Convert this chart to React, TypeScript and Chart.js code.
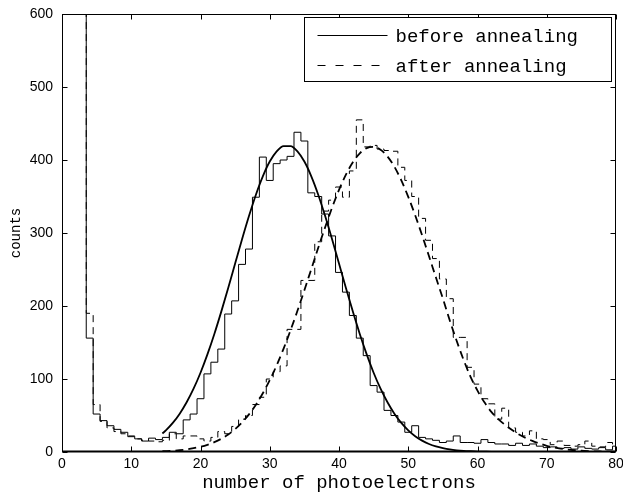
import React, { useEffect, useRef } from "react";
import { Chart, registerables } from "chart.js";

Chart.register(...registerables);

// Histogram bins (bin width 1, centred on integer photoelectron numbers)
const binCenters: number[] = [
  3, 4, 5, 6, 7, 8, 9, 10, 11, 12, 13, 14, 15, 16, 17, 18, 19, 20, 21, 22, 23, 24, 25, 26, 27, 28, 29, 30,
  31, 32, 33, 34, 35, 36, 37, 38, 39, 40, 41, 42, 43, 44, 45, 46, 47, 48, 49, 50, 51, 52, 53, 54, 55, 56,
  57, 58, 59, 60, 61, 62, 63, 64, 65, 66, 67, 68, 69, 70, 71, 72, 73, 74, 75, 76, 77, 78, 79, 80,
];

// counts before annealing (first bin is far off-scale)
const beforeCounts: number[] = [
  1500,
  156, 52, 43, 36, 31, 27, 21, 18, 15, 19,
  17, 20, 27, 25, 44, 52, 73, 107, 123, 141,
  189, 207, 257, 278, 349, 404, 372, 395, 400, 405,
  438, 426, 355, 350, 326, 296, 246, 219, 187, 156,
  132, 91, 82, 57, 50, 41, 27, 36, 20, 18,
  16, 13, 15, 22, 13, 13, 12, 17, 13, 11,
  11, 9, 12, 9, 11, 8, 6, 7, 5, 6,
  4, 7, 5, 4, 6, 3, 8,
];

// counts after annealing (first bin is far off-scale)
const afterCounts: number[] = [
  1500,
  190, 65, 42, 33, 28, 25, 22, 18, 16, 15,
  14, 16, 25, 18, 22, 22, 18, 15, 20, 28,
  25, 35, 45, 50, 65, 75, 100, 110, 118, 168,
  168, 235, 235, 288, 330, 345, 363, 349, 385, 455,
  418, 420, 415, 413, 412, 390, 372, 350, 320, 290,
  265, 237, 210, 157, 157, 116, 93, 73, 66, 45,
  60, 33, 27, 22, 29, 18, 17, 10, 15, 9,
  8, 10, 15, 8, 7, 13, 10,
];

// fitted curves
const fitX: number[] = [
  14.5, 15, 16, 17, 18, 19, 20, 21, 22, 23, 24, 25, 26, 27, 28, 29, 30, 31, 32, 33, 34, 35, 36, 37, 38,
  39, 40, 41, 42, 43, 44, 45, 46, 47, 48, 49, 50, 51, 52, 53, 54, 55, 56, 57, 58, 59, 60, 61, 62, 63,
  64, 65, 66, 67, 68, 69, 70, 71, 72, 73, 74, 75, 76, 77, 78, 79, 80,
];
const beforeFit: number[] = [
  25.4, 29.6, 39.8, 52.5, 68.1, 86.7, 108.6, 133.7, 161.7, 192.3, 224.7, 258.1, 291.4, 323.2, 352.5,
  377.7, 397.9, 411.9, 419.1, 419.1, 411.9, 397.9, 377.7, 352.5, 323.2, 291.4, 258.1, 224.7, 192.3,
  161.7, 133.7, 108.6, 86.7, 68.1, 52.5, 39.8, 29.6, 21.7, 15.6, 11.0, 7.7, 5.3, 3.5, 2.3, 1.5, 1.0,
  0.6, 0.4, 0.2, 0.1, 0.1, 0, 0, 0, 0, 0, 0, 0, 0, 0, 0, 0, 0, 0, 0, 0, 0,
];
const afterFit: number[] = [
  1.0, 1.2, 1.7, 2.5, 3.6, 5.2, 7.2, 9.9, 13.5, 18.1, 24.0, 31.4, 40.5, 51.5, 64.8, 80.4, 98.4, 118.8,
  141.7, 166.7, 193.4, 221.6, 250.6, 279.7, 307.9, 334.7, 359.0, 380.0, 396.9, 409.1, 416.2, 417.9,
  414.0, 404.8, 390.7, 372.0, 349.6, 324.3, 296.8, 268.1, 239.0, 210.2, 180, 152, 126, 103, 84, 68, 55,
  45, 37, 30, 24, 19, 15, 11.5, 8.5, 6.3, 4.6, 3.3, 2.4, 1.7, 1.2, 0.8, 0.6, 0.4, 0.3,
];

const xRange: number[] = [0, 80];
const yRange: number[] = [0, 600];
const xStep = 10;
const yStep = 100;
const binWidth = 1;
const legendLabels: string[] = ["before annealing", "after annealing"];
const xTitle = "number of photoelectrons";
const yTitle = "counts";

const MONO = '"Liberation Mono", "Courier New", monospace';
const SANS = '"Liberation Sans", Arial, Helvetica, sans-serif';

function stairs(centers: number[], counts: number[]) {
  const pts = centers.map((c, i) => ({ x: c - binWidth / 2, y: counts[i] }));
  const last = centers.length - 1;
  pts.push({ x: centers[last] + binWidth / 2, y: counts[last] });
  return pts;
}

function curve(xs: number[], ys: number[]) {
  return xs.map((x, i) => ({ x, y: ys[i] }));
}

function noScalePadding(s: any) {
  s.paddingTop = 0;
  s.paddingBottom = 0;
  s.paddingLeft = 0;
  s.paddingRight = 0;
}

const framePlugin = {
  id: "matlabFrame",
  afterDraw(chart: any) {
    const { ctx, chartArea: a } = chart;
    const xs = chart.scales.x;
    const ys = chart.scales.y;
    const L = Math.round(a.left) + 0.5;
    const R = Math.round(a.right) - 0.5;
    const T = Math.round(a.top) + 0.5;
    const B = Math.round(a.bottom) - 0.5;
    const tl = 5;
    ctx.save();
    ctx.strokeStyle = "#000";
    ctx.lineWidth = 1;
    ctx.setLineDash([]);
    ctx.strokeRect(L, T, R - L, B - T);
    ctx.beginPath();
    xs.ticks.forEach((t: any) => {
      const px = Math.round(xs.getPixelForValue(t.value)) + 0.5;
      ctx.moveTo(px, B);
      ctx.lineTo(px, B - tl);
      ctx.moveTo(px, T);
      ctx.lineTo(px, T + tl);
    });
    ys.ticks.forEach((t: any) => {
      const py = Math.round(ys.getPixelForValue(t.value)) + 0.5;
      ctx.moveTo(L, py);
      ctx.lineTo(L + tl, py);
      ctx.moveTo(R, py);
      ctx.lineTo(R - tl, py);
    });
    ctx.stroke();
    ctx.lineWidth = 2;
    ctx.beginPath();
    ctx.moveTo(L, B);
    ctx.lineTo(R, B);
    ctx.stroke();

    // legend box
    const w = 307;
    const h = 64;
    const x0 = Math.round(a.right - 5 - w) + 0.5;
    const y0 = Math.round(a.top + 3) + 0.5;
    ctx.fillStyle = "#fff";
    ctx.fillRect(x0, y0, w, h);
    ctx.lineWidth = 1;
    ctx.strokeRect(x0, y0, w, h);
    const dashes = [[], [8, 10]];
    legendLabels.forEach((label, i) => {
      const y = Math.round(y0 + 17 + i * 30) + 0.5;
      ctx.setLineDash(dashes[i]);
      ctx.beginPath();
      ctx.moveTo(x0 + 13, y);
      ctx.lineTo(x0 + 83, y);
      ctx.stroke();
      ctx.setLineDash([]);
      ctx.fillStyle = "#000";
      ctx.font = `19px ${MONO}`;
      ctx.textBaseline = "middle";
      ctx.textAlign = "left";
      ctx.fillText(label, x0 + 91, y + 1);
    });
    ctx.restore();
  },
};

export default function App() {
  const canvasRef = useRef<HTMLCanvasElement | null>(null);

  useEffect(() => {
    if (!canvasRef.current) return;
    const chart = new Chart(canvasRef.current, {
      type: "line",
      data: {
        datasets: [
          {
            label: legendLabels[0],
            data: stairs(binCenters, beforeCounts),
            stepped: "before",
            borderColor: "#000",
            borderWidth: 1,
            pointRadius: 0,
            fill: false,
          },
          {
            label: legendLabels[1],
            data: stairs(binCenters, afterCounts),
            stepped: "before",
            borderColor: "#000",
            borderWidth: 1,
            borderDash: [7, 5],
            pointRadius: 0,
            fill: false,
          },
          {
            label: "fit before",
            data: curve(fitX, beforeFit),
            borderColor: "#000",
            borderWidth: 1.8,
            pointRadius: 0,
            cubicInterpolationMode: "monotone",
            fill: false,
          },
          {
            label: "fit after",
            data: curve(fitX, afterFit),
            borderColor: "#000",
            borderWidth: 1.8,
            borderDash: [8, 5],
            pointRadius: 0,
            cubicInterpolationMode: "monotone",
            fill: false,
          },
        ],
      },
      options: {
        animation: false,
        responsive: false,
        devicePixelRatio: 1,
        parsing: false,
        layout: { padding: { top: 14, right: 7, left: 0, bottom: 0 } },
        plugins: {
          legend: { display: false },
          tooltip: { enabled: false },
        },
        scales: {
          x: {
            type: "linear",
            min: xRange[0],
            max: xRange[1],
            ticks: {
              stepSize: xStep,
              padding: 4,
              color: "#000",
              maxRotation: 0,
              font: { family: SANS, size: 14 },
            },
            grid: { display: false, drawTicks: false },
            border: { display: false },
            title: {
              display: true,
              text: xTitle,
              color: "#000",
              font: { family: MONO, size: 19, lineHeight: 1.1 },
              padding: { top: 0, bottom: 0 },
            },
            afterFit: (s: any) => {
              s.height = 41;
              noScalePadding(s);
            },
          },
          y: {
            type: "linear",
            min: yRange[0],
            max: yRange[1],
            ticks: {
              stepSize: yStep,
              padding: 9,
              color: "#000",
              font: { family: SANS, size: 14 },
            },
            grid: { display: false, drawTicks: false },
            border: { display: false },
            title: {
              display: true,
              text: yTitle,
              color: "#000",
              font: { family: MONO, size: 14, lineHeight: 1.2 },
              padding: { top: 8, bottom: 0 },
            },
            afterFit: (s: any) => {
              s.width = 62;
              noScalePadding(s);
            },
          },
        },
      },
      plugins: [framePlugin],
    } as any);
    return () => chart.destroy();
  }, []);

  return (
    <div style={{ position: "fixed", left: 0, top: 0, width: 623, height: 493, background: "#fff" }}>
      <canvas ref={canvasRef} width={623} height={493} style={{ display: "block" }} />
    </div>
  );
}
